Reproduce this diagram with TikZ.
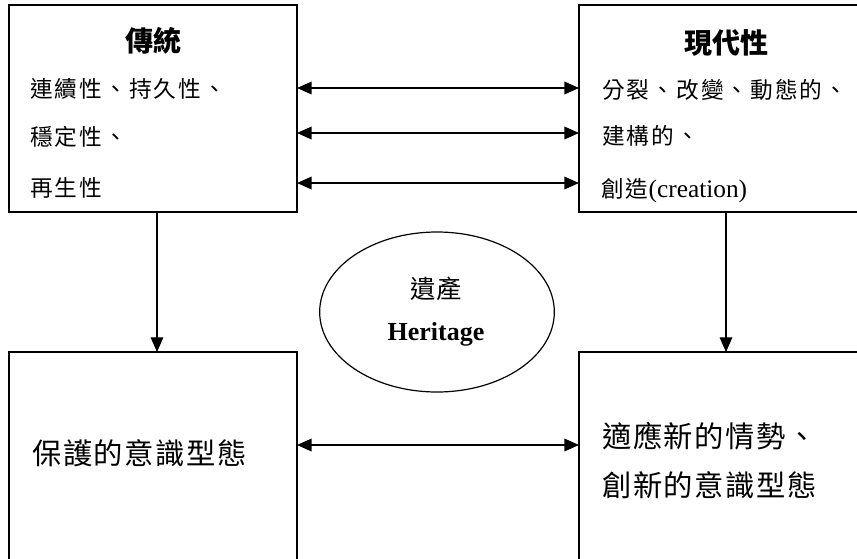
\documentclass[tikz,border=0pt]{standalone}
\usepackage{fontspec}
\setmainfont{Liberation Serif}
\newfontfamily\cjk{Noto Sans CJK TC}
\newfontfamily\cjksp[LetterSpace=9]{Noto Sans CJK TC}
\newfontfamily\cjkbig[LetterSpace=5]{Noto Sans CJK TC}
\usetikzlibrary{arrows.meta,fit,shapes.geometric}
\tikzset{
  box/.style={draw, rectangle, line width=1.5pt, inner sep=0pt, outer sep=0pt},
  tip/.tip={Triangle[length=11pt,width=9.5pt]},
  dbl/.style={line width=1.1pt, tip-tip},
  downarrow/.style={line width=0.8pt, -tip},
  body/.style={inner sep=0pt, anchor=west, font=\fontsize{17pt}{20pt}\selectfont\cjksp},
  big/.style={inner sep=0pt, anchor=west, font=\fontsize{22pt}{26pt}\selectfont\cjkbig},
  title/.style={inner sep=0pt, font=\fontsize{21pt}{25pt}\selectfont\cjk\bfseries},
}
\begin{document}
\begin{tikzpicture}[x=0.75pt,y=-0.75pt]
\useasboundingbox (0,0) rectangle (857,558);
\clip (0,0) rectangle (857,558);
\fill[white] (0,0) rectangle (857,558);

% boxes
\node[box, fit={(9,5) (297,212)}] (tl) {};
\node[box, fit={(579,5) (885,212)}] (tr) {};
\node[box, fit={(9,352) (297,590)}] (bl) {};
\node[box, fit={(579,352) (885,590)}] (br) {};

% ellipse
\node[draw, ellipse, line width=0.9pt, inner sep=0pt, minimum width=176pt, minimum height=120pt] (her) at (437,312) {};
\node[inner sep=0pt, font=\fontsize{19pt}{22pt}\selectfont\cjk] (hzh) at (436,289) {遺產};
\node[inner sep=0pt, font=\fontsize{19.5pt}{23pt}\selectfont\bfseries] (hen) at (436,334) {Heritage};

% titles
\node[title] (tt) at (153,41) {傳統};
\node[title] (mt) at (726,43) {現代性};

% left texts
\node[body] (l1) at (30,89) {連續性、持久性、};
\node[body] (l2) at (30,137) {穩定性、};
\node[body] (l3) at (30,188) {再生性};

% right texts
\node[body] (r1) at (602,90) {分裂、改變、動態的、};
\node[body] (r2) at (602,136) {建構的、};
\node[body] (r3) at (601,191) {創造{\rmfamily\fontsize{19pt}{22pt}\selectfont(creation)}};

% bottom texts
\node[big] (b1) at (32,453) {保護的意識型態};
\node[big] (b2) at (602,436) {適應新的情勢、};
\node[big] (b3) at (602,485) {創新的意識型態};

% arrows
\draw[dbl] (tl.east |- 0,88) -- (tr.west |- 0,88);
\draw[dbl] (tl.east |- 0,133) -- (tr.west |- 0,133);
\draw[dbl] (tl.east |- 0,183) -- (tr.west |- 0,183);
\draw[dbl] (bl.east |- 0,445) -- (br.west |- 0,445);
\draw[downarrow] (tl.south -| 157,0) -- (bl.north -| 157,0);
\draw[downarrow] (tr.south -| 726,0) -- (br.north -| 726,0);
\end{tikzpicture}
\end{document}
